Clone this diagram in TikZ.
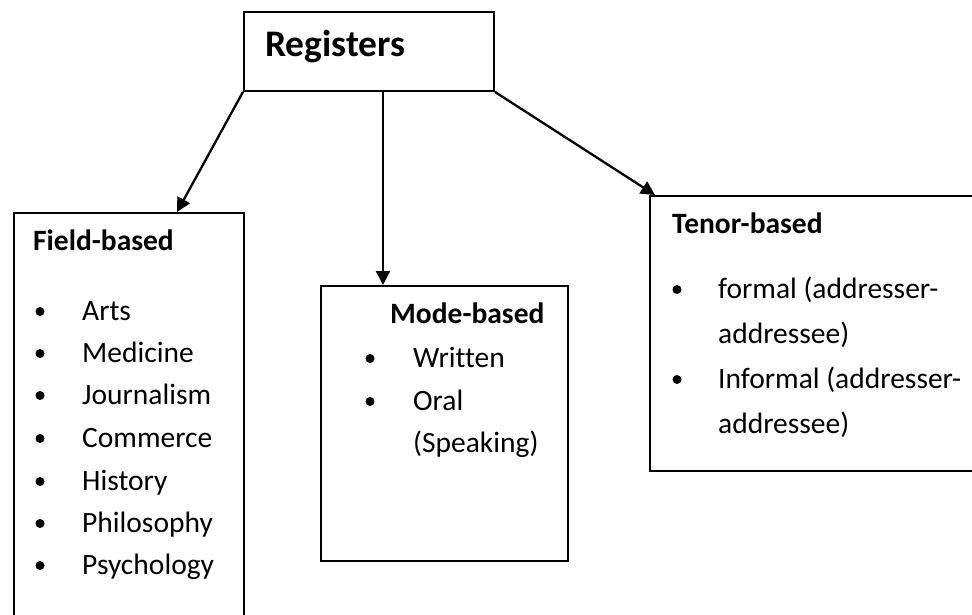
\documentclass[tikz,border=0pt]{standalone}
\usepackage{fontspec}
\setmainfont{Carlito}[Ligatures=NoCommon]
\usetikzlibrary{arrows.meta}
\begin{document}
\begin{tikzpicture}[x=1pt,y=-1pt,
  box/.style={draw=black,line width=1.9pt,rectangle,anchor=north west,inner sep=0pt},
  arr/.style={draw=black,line width=2.3pt,-{Triangle[length=14pt,width=14pt]}},
  txt/.style={anchor=base west,inner sep=0pt,font=\fontsize{29.5}{31}\selectfont},
  head/.style={anchor=base west,inner sep=0pt,font=\fontsize{29.5}{31}\selectfont\bfseries},
  bul/.style={fill=black,circle,inner sep=0pt,minimum size=9pt}]
\clip (0,0) rectangle (972,615);
\fill[white] (0,0) rectangle (972,615);
% boxes
\node[box,minimum width=250pt,minimum height=79pt] (reg) at (243,11) {};
\node[box,minimum width=230pt,minimum height=430pt] (field) at (13,212) {};
\node[box,minimum width=247pt,minimum height=275pt] (mode) at (320,285) {};
\node[box,minimum width=345pt,minimum height=275pt] (tenor) at (649,195) {};
% title
\node[anchor=base west,inner sep=0pt,font=\fontsize{37.5}{40}\selectfont\bfseries] (regt) at (265,57) {Registers};
% connectors
\coordinate (rm) at (383,90);
\coordinate (ftip) at (177,212);
\coordinate (mtip) at (383,285);
\coordinate (ttip) at (655,195);
\draw[arr] (reg.south west) -- (ftip);
\draw[arr] (rm) -- (mtip);
\draw[arr] (reg.south east) -- (ttip);
% field-based
\node[head] (fh) at (33,250) {Field-based};
\foreach \y/\t [count=\i] in {320/Arts,362/Medicine,404/Journalism,447/Commerce,490/History,532/Philosophy,574/Psychology}{
  \node[bul] (fb\i) at (40,\y-8.5) {};
  \node[txt] (ft\i) at (82,\y) {\t};
}
% mode-based
\node[head] (mh) at (390,323) {Mode-based};
\node[bul] (mb1) at (370,367-8.5) {};
\node[txt] (mt1) at (413,367) {Written};
\node[bul] (mb2) at (370,410-8.5) {};
\node[txt] (mt2) at (413,410) {Oral};
\node[txt] (mt3) at (413,452) {(Speaking)};
% tenor-based
\node[head] (th) at (672,233) {Tenor-based};
\node[bul] (tb1) at (677,298-8.5) {};
\node[txt] (tt1) at (718,298) {formal (addresser-};
\node[txt] (tt2) at (718,343) {addressee)};
\node[bul] (tb2) at (677,388-8.5) {};
\node[txt] (tt3) at (718,388) {Informal (addresser-};
\node[txt] (tt4) at (718,433) {addressee)};
\end{tikzpicture}
\end{document}
